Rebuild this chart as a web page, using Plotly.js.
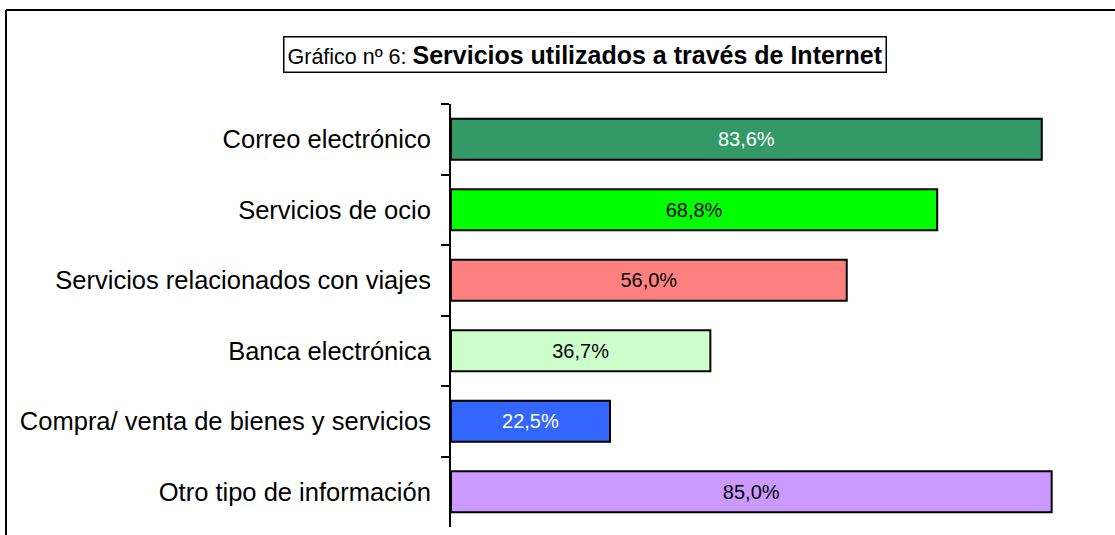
<!DOCTYPE html>
<html><head><meta charset="utf-8">
<script src="https://cdn.plot.ly/plotly-3.0.1.min.js"></script>
<style>html,body{margin:0;padding:0;background:#fff;}#chart{width:1115px;height:535px;}</style>
</head><body><div id="chart"></div>
<script>
const categories = ["Correo electrónico","Servicios de ocio","Servicios relacionados con viajes","Banca electrónica","Compra/ venta de bienes y servicios","Otro tipo de información"];
const values = [83.6, 68.8, 56.0, 36.7, 22.5, 85.0];
const barColors = ["#339966","#00FF00","#FF8080","#CCFFCC","#3366FF","#CC99FF"];
const labelColors = ["#FFFFFF","#000000","#000000","#000000","#FFFFFF","#000000"];
const valueLabels = values.map(v => v.toFixed(1).replace('.', ',') + '%');

const FONT = 'Liberation Sans, Arial, sans-serif';
const L = 451, T = 104, B = 527, W = 636, H = B - T;
const px = x => (x - L) / W;
const py = y => (B - y) / H;

const trace = {
  type: 'bar', orientation: 'h',
  x: values, y: categories,
  width: 0.58,
  marker: {color: barColors, line: {color: '#000', width: 2}},
  text: valueLabels, textposition: 'inside', insidetextanchor: 'middle',
  textfont: {family: FONT, size: 20, color: labelColors},
  hoverinfo: 'none', cliponaxis: false
};
const layout = {
  width: 1115, height: 535,
  margin: {l: L, r: 1115 - L - W, t: T, b: 535 - B},
  paper_bgcolor: '#fff', plot_bgcolor: '#fff',
  showlegend: false,
  font: {family: FONT, color: '#000'},
  xaxis: {range: [0, 90], visible: false, fixedrange: true},
  yaxis: {autorange: 'reversed', type: 'category', showline: true, linecolor: '#000', linewidth: 2,
          ticks: 'outside', tickson: 'boundaries', ticklen: 8, tickwidth: 2, tickcolor: '#000',
          tickfont: {family: FONT, size: 25.5, color: '#000'}, ticklabelstandoff: 13, showgrid: false, zeroline: false, fixedrange: true},
  annotations: [{
    xref: 'paper', yref: 'paper',
    x: px(585), y: py(54),
    xanchor: 'center', yanchor: 'middle', showarrow: false,
    text: '<span style="font-size:21.5px">Gráfico nº 6: </span><b>Servicios utilizados a través de Internet</b>',
    font: {family: FONT, size: 25, color: '#000'},
    bordercolor: '#000', borderwidth: 1.5, borderpad: 3, bgcolor: '#fff'
  }],
  shapes: [
    {type: 'line', xref: 'paper', yref: 'paper', x0: px(6), x1: px(6), y0: py(10), y1: py(560), line: {color: '#000', width: 2}},
    {type: 'line', xref: 'paper', yref: 'paper', x0: px(6), x1: px(1140), y0: py(10), y1: py(10), line: {color: '#000', width: 2}}
  ]
};
Plotly.newPlot('chart', [trace], layout, {displayModeBar: false, staticPlot: true});
</script></body></html>
